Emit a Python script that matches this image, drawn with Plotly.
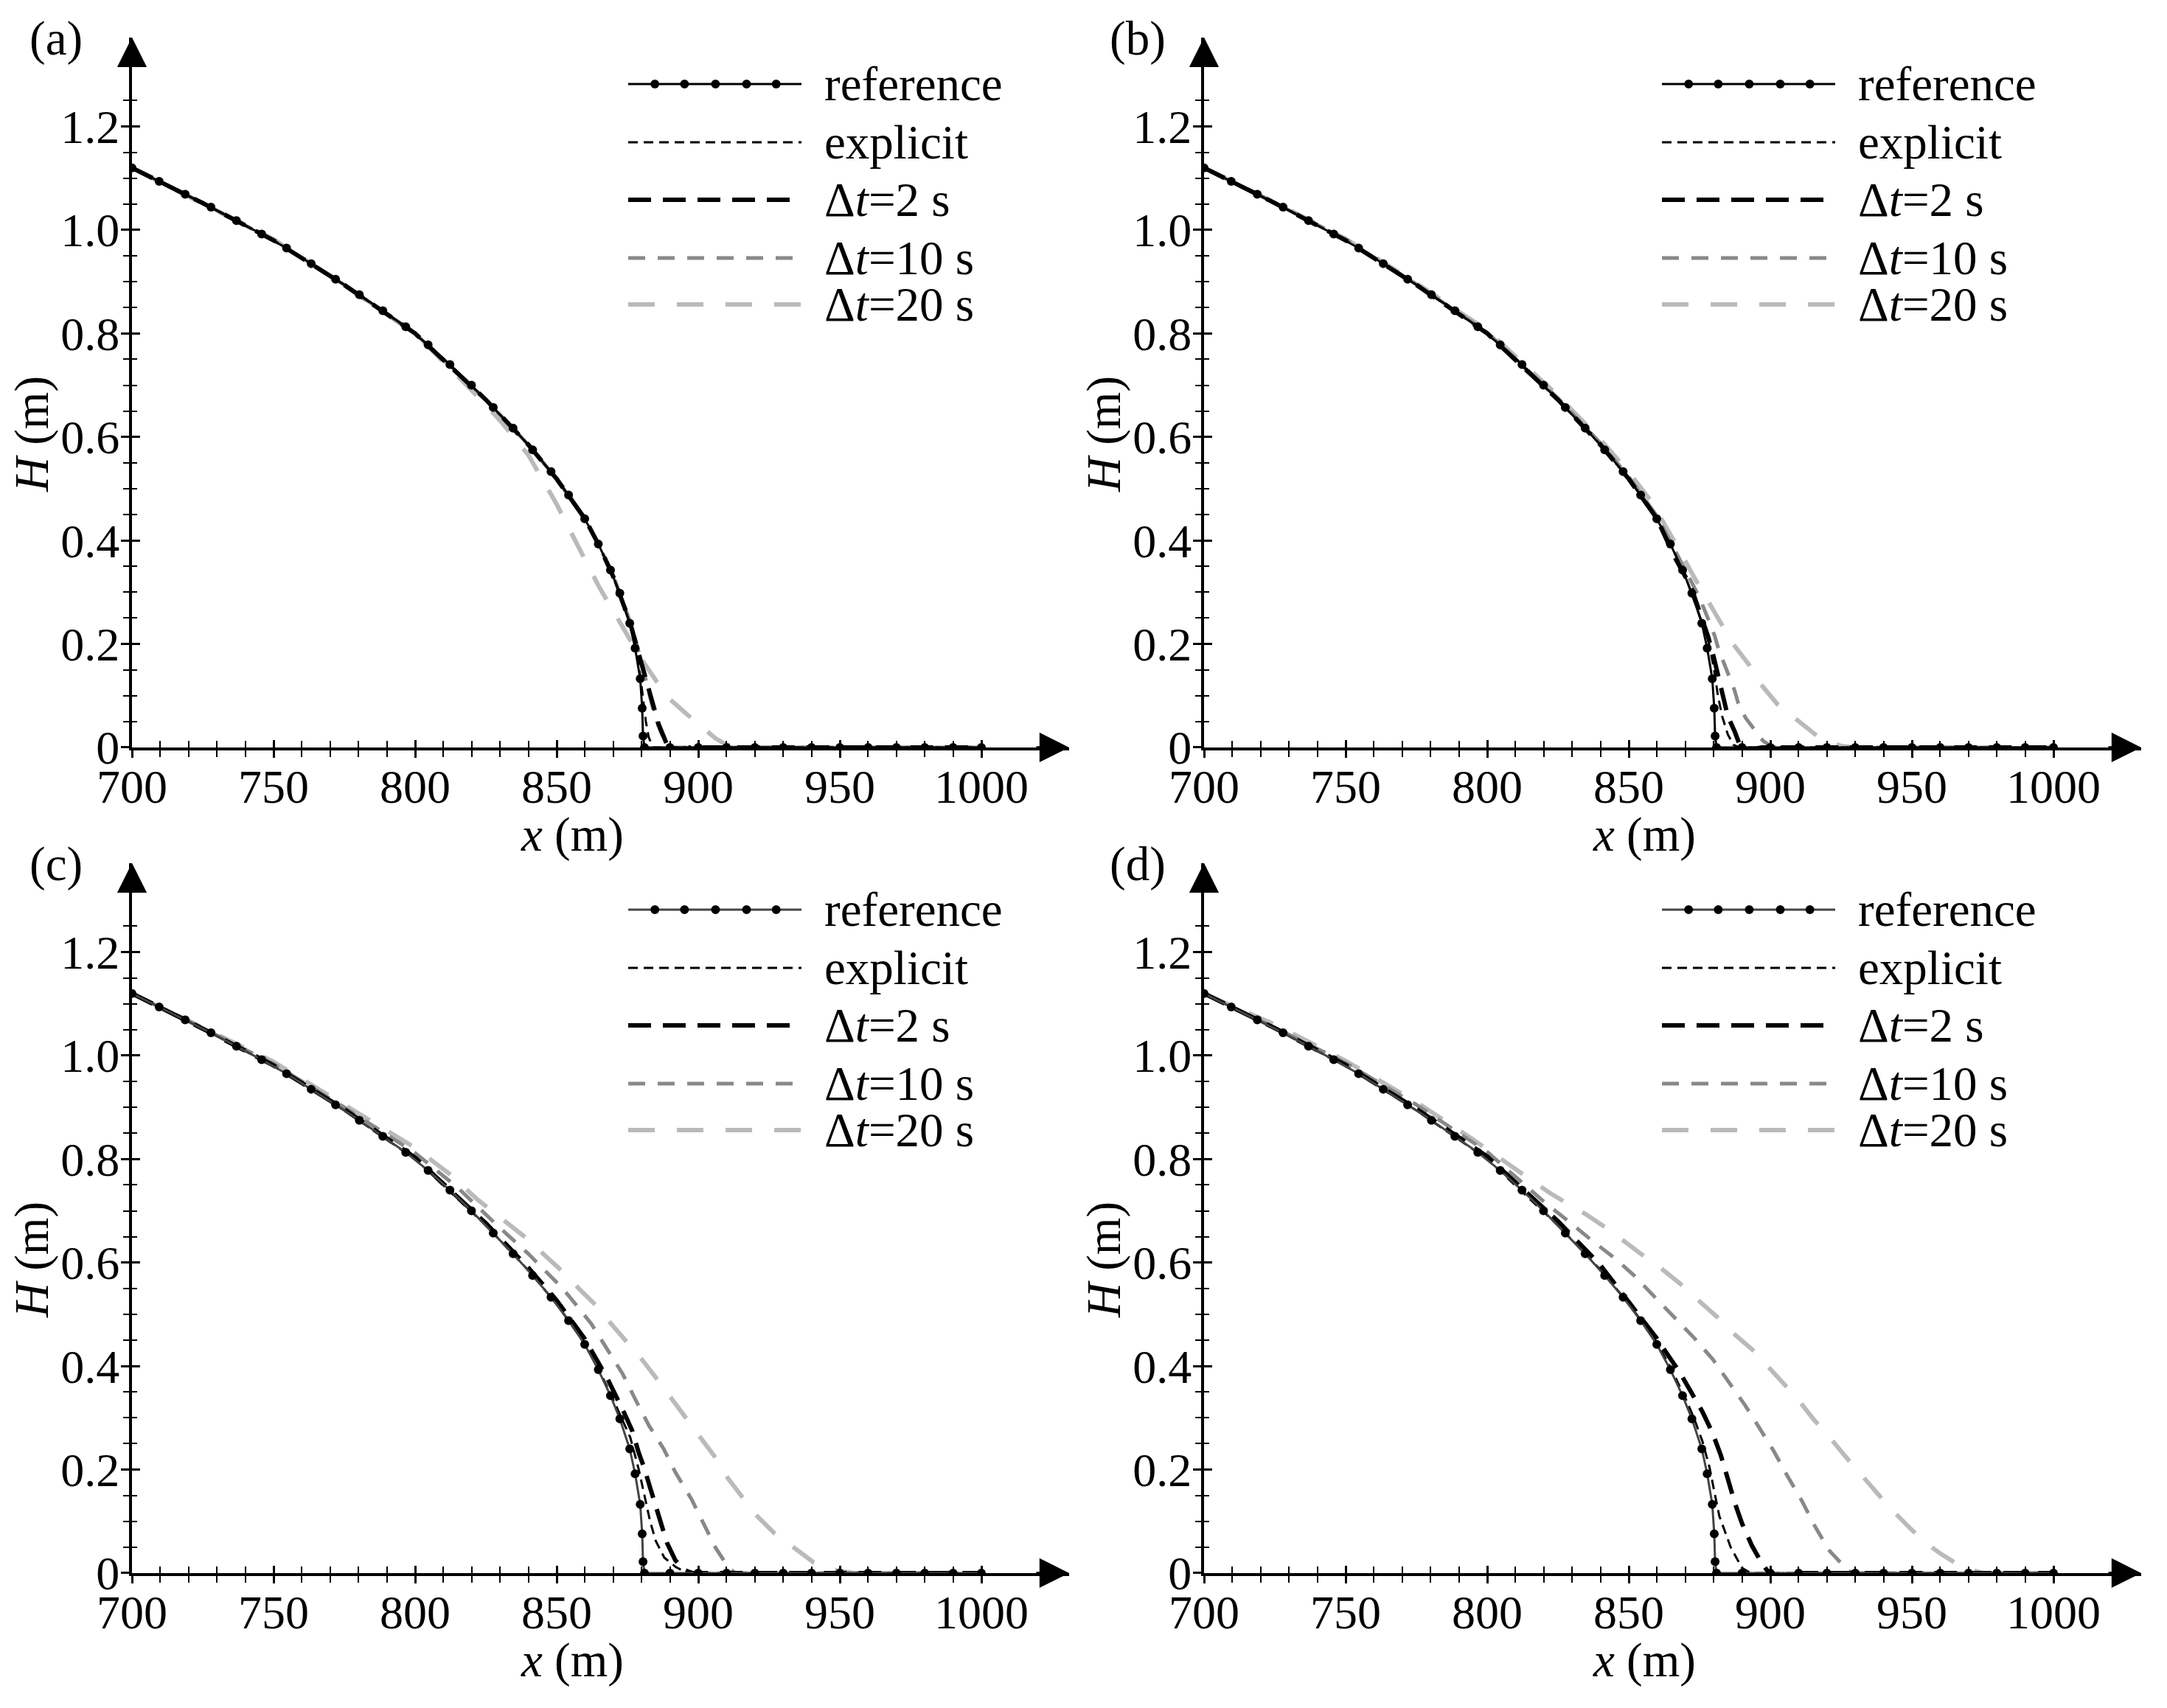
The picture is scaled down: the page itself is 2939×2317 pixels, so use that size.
import plotly.graph_objects as go

W, H = 2939, 2317
FONT = "Liberation Serif, Times New Roman, serif"

# ---- data ----
# reference solution (same in every panel)
ref_x = [700, 709.6, 718.8, 727.9, 736.9, 745.8, 754.6, 763.3, 771.9, 780.3, 788.6, 796.7,
         804.6, 812.3, 819.9, 827.6, 834.6, 841.5, 848.0, 854.2, 859.9, 864.7, 869.0, 872.3,
         875.8, 877.7, 879.5, 880.2, 880.5, 881, 890, 900, 910, 920, 930, 940, 950, 960,
         970, 980, 990, 1000]
ref_h = [1.120, 1.094, 1.069, 1.044, 1.018, 0.992, 0.965, 0.935, 0.905, 0.875, 0.844, 0.813,
         0.778, 0.740, 0.700, 0.657, 0.617, 0.575, 0.533, 0.488, 0.442, 0.393, 0.343, 0.298,
         0.240, 0.192, 0.133, 0.076, 0.022, 0, 0, 0, 0, 0, 0, 0, 0, 0,
         0, 0, 0, 0]

# panel (a)
a_exp_x = [700, 725, 750, 775, 800, 825, 840, 850, 860, 865, 870, 875.8, 878, 879.5, 880.5, 881.5, 882.5, 884, 1000]
a_exp_h = [1.12, 1.052, 0.98, 0.894, 0.80, 0.672, 0.585, 0.519, 0.442, 0.39, 0.33, 0.24, 0.195, 0.14, 0.095, 0.05, 0.02, 0, 0]
a_dt2_x = [700, 725, 750, 775, 800, 825, 840, 850, 860, 865, 870, 876, 878, 880, 882, 884, 886, 887.5, 889, 891, 893, 895, 897, 1000]
a_dt2_h = [1.12, 1.052, 0.98, 0.894, 0.80, 0.672, 0.585, 0.519, 0.442, 0.39, 0.33, 0.24, 0.20, 0.16, 0.12, 0.08, 0.045, 0.025, 0.005, -0.012, -0.018, -0.01, 0, 0]
a_dt10_x = [700, 725, 750, 775, 800, 825, 840, 850, 860, 865, 870, 875.8, 878, 880, 882, 884, 886, 888, 890, 1000]
a_dt10_h = [1.12, 1.052, 0.98, 0.894, 0.80, 0.672, 0.585, 0.519, 0.44, 0.39, 0.332, 0.245, 0.205, 0.165, 0.12, 0.075, 0.04, 0.014, 0, 0]
a_dt20_x = [700, 725, 750, 775, 800, 820, 830, 840, 850, 857, 865, 872, 880, 885, 890, 896, 902, 906, 910, 915, 1000]
a_dt20_h = [1.12, 1.052, 0.982, 0.893, 0.80, 0.69, 0.632, 0.565, 0.47, 0.395, 0.31, 0.245, 0.17, 0.13, 0.093, 0.064, 0.035, 0.018, 0.005, 0, 0]

# panel (b)
b_exp_x = [700, 725, 750, 775, 800, 825, 840, 850, 860, 865, 870, 875.8, 878, 880, 881.5, 883, 885, 887, 889, 1000]
b_exp_h = [1.12, 1.052, 0.98, 0.894, 0.80, 0.672, 0.585, 0.519, 0.442, 0.39, 0.33, 0.245, 0.21, 0.155, 0.10, 0.06, 0.025, 0.005, 0, 0]
b_dt2_x = [700, 725, 750, 775, 800, 825, 840, 850, 860, 866, 872, 875, 878, 880, 882, 883.5, 885, 887.4, 889, 891, 894, 897, 1000]
b_dt2_h = [1.12, 1.052, 0.98, 0.894, 0.80, 0.672, 0.585, 0.519, 0.442, 0.37, 0.31, 0.265, 0.215, 0.175, 0.13, 0.09, 0.06, 0.031, 0.008, -0.006, -0.003, 0, 0]
b_dt10_x = [700, 725, 750, 775, 800, 825, 840, 850, 860, 865, 870, 874.8, 878.3, 880.4, 881.7, 883.9, 885.2, 887.4, 888.7, 891.3, 893.9, 897.4, 900, 903, 1000]
b_dt10_h = [1.12, 1.052, 0.982, 0.895, 0.802, 0.675, 0.588, 0.523, 0.447, 0.395, 0.34, 0.292, 0.245, 0.215, 0.19, 0.16, 0.138, 0.11, 0.085, 0.057, 0.038, 0.013, 0.003, 0, 0]
b_dt20_x = [700, 725, 750, 775, 800, 825, 840, 850, 858, 864, 868, 873.5, 878.3, 883.5, 887, 892.6, 896.5, 902.6, 908.3, 915.7, 920, 925, 930, 1000]
b_dt20_h = [1.12, 1.053, 0.983, 0.897, 0.806, 0.68, 0.595, 0.532, 0.475, 0.42, 0.38, 0.325, 0.28, 0.235, 0.199, 0.159, 0.123, 0.083, 0.057, 0.026, 0.012, 0.003, 0, 0]

# panel (c)
c_exp_x = [700, 725, 750, 775, 800, 825, 840, 850, 860, 865, 870, 876, 879, 881, 883, 885, 888, 892, 896, 1000]
c_exp_h = [1.12, 1.052, 0.98, 0.894, 0.80, 0.672, 0.585, 0.52, 0.443, 0.392, 0.335, 0.262, 0.20, 0.15, 0.10, 0.062, 0.03, 0.012, 0, 0]
c_dt2_x = [700, 725, 750, 775, 800, 825, 840, 850, 860, 868, 873.8, 876.7, 879, 881, 883, 885, 887, 889, 891.9, 895, 898, 1000]
c_dt2_h = [1.12, 1.052, 0.981, 0.896, 0.803, 0.676, 0.59, 0.527, 0.452, 0.375, 0.31, 0.275, 0.232, 0.202, 0.165, 0.128, 0.09, 0.058, 0.025, 0.006, 0, 0]
c_dt10_x = [700, 725, 750, 775, 800, 815, 829, 840, 851.2, 854.7, 862.2, 868, 873.3, 878.5, 882.6, 887.8, 891.9, 897.7, 902.3, 906, 910.5, 913, 1000]
c_dt10_h = [1.12, 1.053, 0.984, 0.9, 0.812, 0.745, 0.672, 0.617, 0.555, 0.533, 0.482, 0.432, 0.385, 0.328, 0.285, 0.24, 0.195, 0.142, 0.09, 0.05, 0.012, 0, 0]
c_dt20_x = [700, 725, 750, 775, 800, 812, 822, 832.6, 840.1, 846, 853, 858, 864.5, 869.2, 875.6, 880.2, 886, 890.7,
            896.5, 900.6, 905.8, 910.5, 915.7, 920.3, 926.7, 932.6, 940.7, 947, 955, 965, 990, 1000]
c_dt20_h = [1.12, 1.055, 0.988, 0.905, 0.822, 0.772, 0.722, 0.676, 0.644, 0.613, 0.578, 0.549, 0.514, 0.482, 0.441, 0.412, 0.371, 0.336,
            0.295, 0.263, 0.225, 0.183, 0.145, 0.113, 0.078, 0.053, 0.021, 0.007, 0, -0.004, -0.003, 0]

# panel (d)
d_exp_x = [700, 725, 750, 775, 800, 825, 840, 850, 860, 865, 870, 873, 876, 878.5, 880.5, 882, 884, 886, 888, 890, 893, 1000]
d_exp_h = [1.12, 1.052, 0.98, 0.894, 0.80, 0.672, 0.586, 0.521, 0.445, 0.395, 0.338, 0.30, 0.255, 0.205, 0.15, 0.11, 0.08, 0.05, 0.03, 0.01, 0, 0]
d_dt2_x = [700, 725, 750, 775, 800, 825, 840, 855, 860, 864, 868, 872, 876, 879.5, 882.5, 885, 887.5, 890, 893.5, 896.5, 899, 901, 904, 907, 1000]
d_dt2_h = [1.12, 1.053, 0.982, 0.897, 0.805, 0.68, 0.595, 0.487, 0.453, 0.42, 0.388, 0.35, 0.312, 0.272, 0.228, 0.182, 0.135, 0.096, 0.053, 0.024, 0.004, -0.006, -0.004, 0, 0]
d_dt10_x = [700, 725, 750, 775, 800, 812.7, 820.4, 828.7, 836.9, 845.2, 851.9, 859.1, 866.3, 873, 879.7, 885.4, 891,
            896.2, 901.3, 906, 911.1, 915.8, 920.9, 927.6, 931, 1000]
d_dt10_h = [1.12, 1.054, 0.986, 0.905, 0.814, 0.752, 0.716, 0.68, 0.643, 0.608, 0.575, 0.534, 0.494, 0.455, 0.413, 0.368, 0.325,
            0.28, 0.235, 0.188, 0.14, 0.09, 0.043, 0.004, 0, 0]
d_dt20_x = [700, 725, 750, 775, 795, 806.5, 815, 822, 829, 835, 842.6, 848.2, 856, 861.6, 868.9, 874, 881.2, 886.4, 893.6,
            898.2, 904.4, 909.6, 915.3, 920.4, 926.6, 931.2, 937.4, 942.1, 949.3, 955, 960, 965, 970, 975, 985, 995, 1000]
d_dt20_h = [1.12, 1.06, 0.99, 0.91, 0.838, 0.795, 0.763, 0.735, 0.712, 0.693, 0.665, 0.641, 0.61, 0.588, 0.556, 0.53, 0.495, 0.466, 0.432,
            0.405, 0.368, 0.337, 0.297, 0.266, 0.225, 0.195, 0.157, 0.127, 0.087, 0.058, 0.038, 0.021, 0.008, 0.0, -0.006, -0.005, 0]

series_names = ["reference", "explicit", "Δ<i>t</i>=2 s", "Δ<i>t</i>=10 s", "Δ<i>t</i>=20 s"]
x_ticks = [700, 750, 800, 850, 900, 950, 1000]
x_tick_text = ["700", "750", "800", "850", "900", "950", "1000"]
y_ticks = [0, 0.2, 0.4, 0.6, 0.8, 1.0, 1.2]
y_tick_text = ["0", "0.2", "0.4", "0.6", "0.8", "1.0", "1.2"]

panels = {
    "a": dict(exp=(a_exp_x, a_exp_h), dt2=(a_dt2_x, a_dt2_h), dt10=(a_dt10_x, a_dt10_h), dt20=(a_dt20_x, a_dt20_h)),
    "b": dict(exp=(b_exp_x, b_exp_h), dt2=(b_dt2_x, b_dt2_h), dt10=(b_dt10_x, b_dt10_h), dt20=(b_dt20_x, b_dt20_h)),
    "c": dict(exp=(c_exp_x, c_exp_h), dt2=(c_dt2_x, c_dt2_h), dt10=(c_dt10_x, c_dt10_h), dt20=(c_dt20_x, c_dt20_h)),
    "d": dict(exp=(d_exp_x, d_exp_h), dt2=(d_dt2_x, d_dt2_h), dt10=(d_dt10_x, d_dt10_h), dt20=(d_dt20_x, d_dt20_h)),
}

# ---- layout in pixels ----
X0, X1 = 700, 1031      # axis range incl. arrow
Y0, Y1 = 0, 1.372
PX_PER_M = 3.84
PX_PER_H = 702
origin = {"a": (171, 1006), "b": (1625, 1006), "c": (171, 2126), "d": (1625, 2126)}

styles = {
    "dt20": dict(color="#bababa", width=6, dash="36px,30px"),
    "dt10": dict(color="#888888", width=5, dash="23px,17px"),
    "dt2": dict(color="#000000", width=6, dash="31px,16px"),
    "exp": dict(color="#000000", width=3, dash="13px,8px"),
}
ref_line = {"a": "#000000", "b": "#000000", "c": "#444444", "d": "#444444"}

fig = go.Figure()
layout = {}
annotations = []
shapes = []

def px(x):
    return x / W

def py(y):
    return 1 - y / H

minor_x = [v for v in range(700, 1001, 10) if v % 50 != 0]
minor_y = [round(i * 0.05, 2) for i in range(0, 26) if i % 4 != 0]

for k, key in enumerate(["a", "b", "c", "d"], start=1):
    ox, oy = origin[key]
    wpx = (X1 - X0) * PX_PER_M
    hpx = (Y1 - Y0) * PX_PER_H
    xd = [px(ox), px(ox + wpx)]
    yd = [py(oy), py(oy - hpx)]
    xa, ya = f"x{k}", f"y{k}"
    xo, yo = f"x{k + 4}", f"y{k + 4}"
    sfx, sfo = ("" if k == 1 else str(k)), str(k + 4)

    common_x = dict(range=[X0, X1], showgrid=False, zeroline=False, fixedrange=True,
                    tickvals=x_ticks, ticktext=x_tick_text, tickwidth=2.5, tickcolor="black",
                    automargin=False)
    common_y = dict(range=[Y0, Y1], showgrid=False, zeroline=False, fixedrange=True,
                    tickvals=y_ticks, ticktext=y_tick_text, tickwidth=2.5, tickcolor="black",
                    automargin=False)

    layout["xaxis" + sfx] = dict(common_x, domain=xd, anchor=ya, showline=True, linewidth=4,
                                 linecolor="black", ticks="outside", ticklen=10,
                                 ticklabelstandoff=-16,
                                 tickfont=dict(family=FONT, size=64, color="black"),
                                 minor=dict(tickvals=minor_x, ticks="outside", ticklen=9,
                                            tickwidth=2, tickcolor="black"))
    layout["yaxis" + sfx] = dict(common_y, domain=yd, anchor=xa, showline=True, linewidth=4,
                                 linecolor="black", ticks="outside", ticklen=11,
                                 ticklabelstandoff=-11,
                                 tickfont=dict(family=FONT, size=64, color="black"),
                                 minor=dict(tickvals=minor_y, ticks="outside", ticklen=8,
                                            tickwidth=2, tickcolor="black"))
    # overlay axes only to draw the inner half of the crossing ticks
    layout["xaxis" + sfo] = dict(common_x, overlaying=xa, anchor=yo, showline=False,
                                 ticks="inside", ticklen=10, showticklabels=False,
                                 minor=dict(tickvals=minor_x, ticks="inside", ticklen=9,
                                            tickwidth=2, tickcolor="black"))
    layout["yaxis" + sfo] = dict(common_y, overlaying=ya, anchor=xo, showline=False,
                                 ticks="inside", ticklen=11, showticklabels=False,
                                 minor=dict(tickvals=minor_y, ticks="inside", ticklen=7,
                                            tickwidth=2, tickcolor="black"))
    fig.add_trace(go.Scatter(x=[None], y=[None], xaxis=xo, yaxis=yo, showlegend=False,
                             hoverinfo="skip"))

    p = panels[key]
    for s in ["dt20", "dt10", "dt2", "exp"]:
        sx, sy = p[s]
        fig.add_trace(go.Scatter(x=sx, y=sy, mode="lines", xaxis=xa, yaxis=ya,
                                 line=styles[s], showlegend=False, hoverinfo="skip"))
    fig.add_trace(go.Scatter(x=ref_x, y=ref_h, mode="lines+markers", xaxis=xa, yaxis=ya,
                             line=dict(color=ref_line[key], width=3),
                             marker=dict(color="black", size=12, symbol="circle"),
                             showlegend=False, hoverinfo="skip"))

    # axis arrow heads
    annotations.append(dict(x=X1, y=0, ax=X1 - 12, ay=0, xref=xa, yref=ya, axref=xa, ayref=ya,
                            showarrow=True, arrowhead=2, arrowsize=2.3, arrowwidth=3.5,
                            arrowcolor="black", text=""))
    annotations.append(dict(x=X0, y=Y1, ax=X0, ay=Y1 - 0.05, xref=xa, yref=ya, axref=xa, ayref=ya,
                            showarrow=True, arrowhead=2, arrowsize=2.3, arrowwidth=3.5,
                            arrowcolor="black", text=""))

    # axis titles and panel letter
    tfont = dict(family=FONT, size=65, color="black")
    annotations.append(dict(x=px(ox + 597), y=py(oy + 118), xref="paper", yref="paper",
                            text="<i>x</i> (m)", showarrow=False, font=tfont,
                            xanchor="center", yanchor="middle"))
    annotations.append(dict(x=px(ox - 136), y=py(oy - 425), xref="paper", yref="paper",
                            text="<i>H</i> (m)", showarrow=False, font=tfont, textangle=-90,
                            xanchor="center", yanchor="middle"))
    lab_dx = -103 if key in ("a", "c") else -90
    annotations.append(dict(x=px(ox + lab_dx), y=py(oy - 962), xref="paper", yref="paper",
                            text=f"({key})", showarrow=False, font=tfont,
                            xanchor="center", yanchor="middle"))

    # legend drawn as line samples + text
    if key in ("a", "c"):
        lx0, lx1, tx = 673, 908, 937
    else:
        lx0, lx1, tx = 621, 856, 885
    rows = [-900, -821, -743, -664, -601]
    keys = ["ref", "exp", "dt2", "dt10", "dt20"]
    for name, s, ry in zip(series_names, keys, rows):
        yy = py(oy + ry)
        if s == "ref":
            ln = dict(color=ref_line[key], width=3)
        else:
            ln = dict(color=styles[s]["color"], width=styles[s]["width"], dash=styles[s]["dash"])
        shapes.append(dict(type="line", xref="paper", yref="paper", x0=px(ox + lx0),
                           x1=px(ox + lx1), y0=yy, y1=yy, line=ln))
        if s == "ref":
            for f in [0.154, 0.325, 0.504, 0.683, 0.854]:
                cx = ox + lx0 + f * (lx1 - lx0)
                shapes.append(dict(type="circle", xref="paper", yref="paper",
                                   x0=px(cx - 6), x1=px(cx + 6),
                                   y0=py(oy + ry + 6), y1=py(oy + ry - 6),
                                   fillcolor="black", line=dict(width=0)))
        annotations.append(dict(x=px(ox + tx), y=yy, xref="paper", yref="paper", text=name,
                                showarrow=False, font=tfont, xanchor="left", yanchor="middle"))

fig.update_layout(width=W, height=H,
                  margin=dict(l=0, r=0, t=0, b=0, pad=0, autoexpand=False),
                  paper_bgcolor="white", plot_bgcolor="white",
                  font=dict(family=FONT, color="black"),
                  annotations=annotations, shapes=shapes, **layout)

fig.write_html("out.html")
